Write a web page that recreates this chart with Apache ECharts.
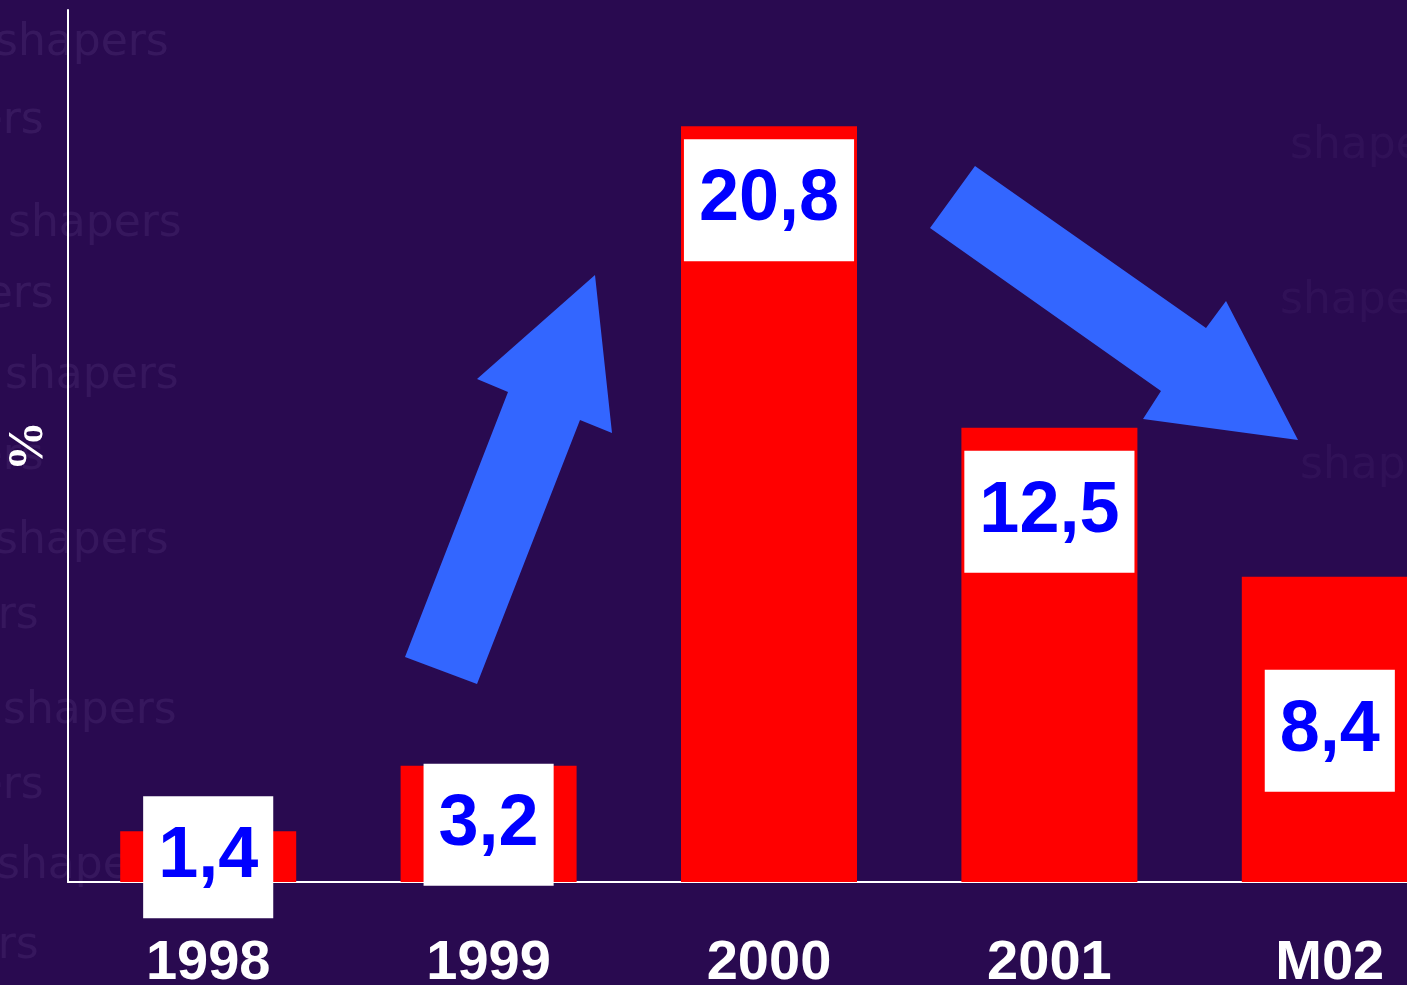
<!DOCTYPE html>
<html>
<head>
<meta charset="utf-8">
<script src="https://cdn.jsdelivr.net/npm/echarts@6/dist/echarts.min.js"></script>
<style>
html,body{margin:0;padding:0;background:#290a50;}
#chart{width:1407px;height:985px;}
</style>
</head>
<body>
<div id="chart"></div>
<script>
// ---- data ----
const categories = ['1998', '1999', '2000', '2001', 'M02'];
const values = [1.4, 3.2, 20.8, 12.5, 8.4];
const valueLabels = ['1,4', '3,2', '20,8', '12,5', '8,4'];
const yAxisName = '%';

// ---- layout (label box centre, px below bar top) ----
const labelDy = [26, 59, 74, 84, 154];

const chart = echarts.init(document.getElementById('chart'));

const wmColor = 'rgba(190,160,230,0.10)';
const wmFont = '44px "DejaVu Sans"';
const watermarks = [
  [-5, 22, 'shapers', 1], [-130, 100, 'shapers', 1], [8, 203, 'shapers', 0.9],
  [-120, 274, 'shapers', 1], [5, 355, 'shapers', 0.9], [-130, 436, 'shapers', 0.8],
  [-5, 520, 'shapers', 0.9], [-135, 595, 'shapers', 0.9], [3, 690, 'shapers', 0.9],
  [-130, 765, 'shapers', 0.9], [-3, 845, 'shapers', 0.9], [-135, 925, 'shapers', 0.9],
  [1290, 125, 'shapers', 0.5], [1280, 280, 'shapers', 0.5], [1300, 445, 'shapers', 0.5]
].map(w => ({
  type: 'text', left: w[0], top: w[1], z: -10, silent: true,
  style: { text: w[2], font: wmFont, fill: wmColor, opacity: w[3] }
}));

const arrowColor = '#3366ff';
const arrows = [
  [[405,657],[508,392],[477,379],[595,275],[612,433],[580,420],[477,684]],
  [[975,166],[1206,328],[1226,301],[1298,440],[1143,419],[1161,391],[930,228]]
].map(pts => ({
  type: 'polygon', z: 100, silent: true,
  shape: { points: pts },
  style: { fill: arrowColor }
}));

const option = {
  backgroundColor: '#290a50',
  animation: false,
  grid: { left: 68, right: -63, top: 10, bottom: 103, containLabel: false, outerBoundsMode: 'none' },
  xAxis: {
    type: 'category',
    data: categories,
    axisLine: { show: true, lineStyle: { color: '#ffffff', width: 2 } },
    axisTick: { show: false },
    axisLabel: {
      color: '#ffffff', fontSize: 56, fontWeight: 'bold',
      fontFamily: '"Liberation Sans", Arial, sans-serif', margin: 54
    }
  },
  yAxis: {
    type: 'value', min: 0, max: 24,
    name: yAxisName, nameLocation: 'middle', nameGap: 14, nameRotate: 90,
    nameTextStyle: { color: '#ffffff', fontSize: 50, fontWeight: 'bold', fontFamily: '"Liberation Serif", "Times New Roman", serif' },
    axisLine: { show: true, lineStyle: { color: '#ffffff', width: 2 } },
    axisTick: { show: false },
    axisLabel: { show: false },
    splitLine: { show: false }
  },
  series: [{
    type: 'bar',
    barWidth: 176,
    itemStyle: { color: '#ff0000' },
    data: values.map((v, i) => ({
      value: v,
      label: {
        show: true,
        position: ['50%', labelDy[i]],
        align: 'center', verticalAlign: 'middle',
        formatter: valueLabels[i],
        color: '#0000ff', fontSize: 72, fontWeight: 'bold',
        fontFamily: '"Liberation Sans", Arial, sans-serif',
        backgroundColor: '#ffffff', lineHeight: 72,
        padding: [25, 15, 25, 15]
      }
    })),
    z: 5
  }],
  graphic: watermarks.concat(arrows)
};
chart.setOption(option);
</script>
</body>
</html>
